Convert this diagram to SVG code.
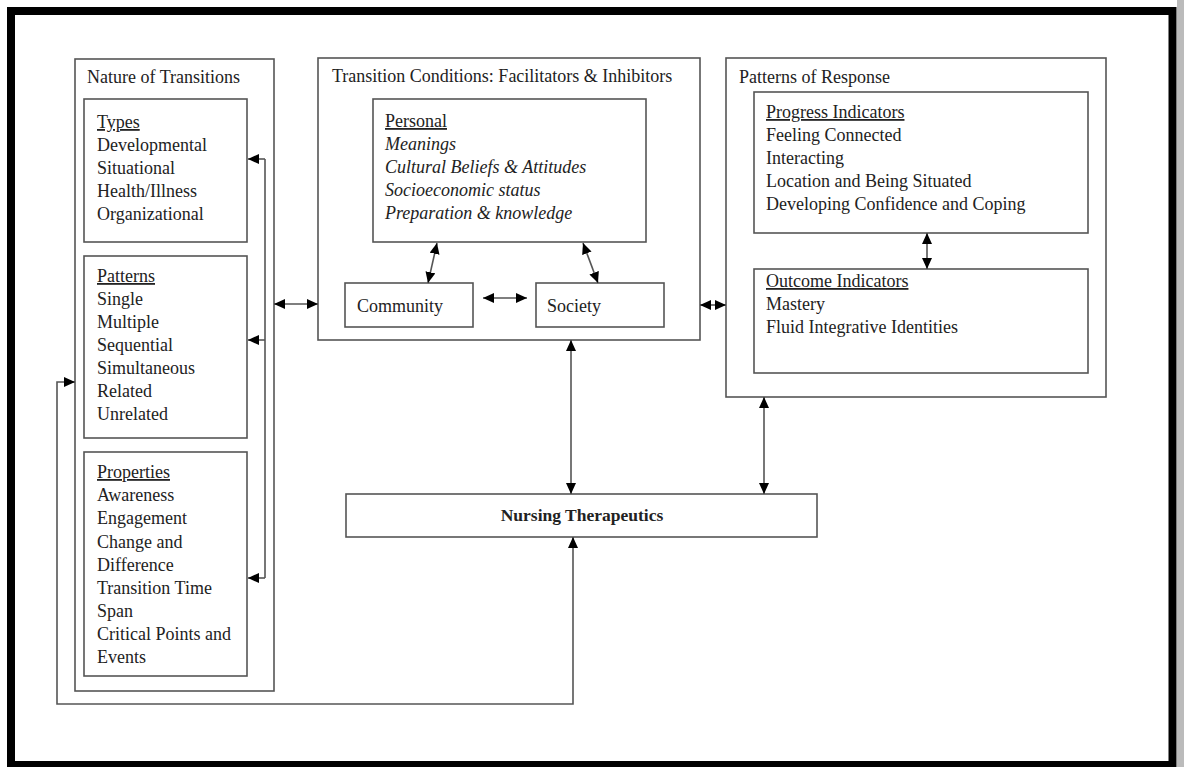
<svg xmlns="http://www.w3.org/2000/svg" width="1184" height="767" viewBox="0 0 1184 767">
<style>
.box{fill:#fff;stroke:#555;stroke-width:1.6}
.t{font-family:"Liberation Serif","Times New Roman",serif;font-size:18px;fill:#222}
.i{font-style:italic}
.u{text-decoration:underline}
.b{font-weight:bold;font-size:17.5px}
.c{fill:none;stroke:#555;stroke-width:1.6}
</style>
<defs>
<marker id="ah" viewBox="0 0 11 10" refX="11" refY="5" markerWidth="11" markerHeight="10" markerUnits="userSpaceOnUse" orient="auto-start-reverse">
<path d="M0,0 L11,5 L0,10 Z" fill="#000"/>
</marker>
</defs>
<rect x="0" y="0" width="1184" height="767" fill="#fff"/>
<rect x="1177" y="0" width="7" height="767" fill="#bbb"/>
<rect x="11" y="11" width="1161.5" height="754" fill="none" stroke="#000" stroke-width="8"/>

<g id="nature">
<rect class="box" x="75" y="59" width="199" height="632"/>
<text class="t" x="87" y="83">Nature of Transitions</text>
</g>
<g id="types">
<rect class="box" x="84" y="99" width="163" height="143"/>
<text class="t"><tspan class="u" x="97" y="128">Types</tspan><tspan x="97" y="151">Developmental</tspan><tspan x="97" y="174">Situational</tspan><tspan x="97" y="197">Health/Illness</tspan><tspan x="97" y="220">Organizational</tspan></text>
</g>
<g id="patterns">
<rect class="box" x="84" y="256" width="163" height="182"/>
<text class="t"><tspan class="u" x="97" y="282">Patterns</tspan><tspan x="97" y="305">Single</tspan><tspan x="97" y="328">Multiple</tspan><tspan x="97" y="351">Sequential</tspan><tspan x="97" y="374">Simultaneous</tspan><tspan x="97" y="397">Related</tspan><tspan x="97" y="420">Unrelated</tspan></text>
</g>
<g id="properties">
<rect class="box" x="84" y="452" width="163" height="224"/>
<text class="t"><tspan class="u" x="97" y="478">Properties</tspan><tspan x="97" y="501">Awareness</tspan><tspan x="97" y="524">Engagement</tspan><tspan x="97" y="548">Change and</tspan><tspan x="97" y="571">Difference</tspan><tspan x="97" y="594">Transition Time</tspan><tspan x="97" y="617">Span</tspan><tspan x="97" y="640">Critical Points and</tspan><tspan x="97" y="663">Events</tspan></text>
</g>

<g id="conditions">
<rect class="box" x="318" y="58" width="382" height="282"/>
<text class="t" x="332" y="82">Transition Conditions: Facilitators &amp; Inhibitors</text>
</g>
<g id="personal">
<rect class="box" x="373" y="99" width="273" height="143"/>
<text class="t"><tspan class="u" x="385" y="127">Personal</tspan><tspan class="i" x="385" y="150">Meanings</tspan><tspan class="i" x="385" y="173">Cultural Beliefs &amp; Attitudes</tspan><tspan class="i" x="385" y="196">Socioeconomic status</tspan><tspan class="i" x="385" y="219">Preparation &amp; knowledge</tspan></text>
</g>
<g id="community">
<rect class="box" x="345" y="283" width="128" height="44"/>
<text class="t" x="357" y="312">Community</text>
</g>
<g id="society">
<rect class="box" x="536" y="283" width="128" height="44"/>
<text class="t" x="547" y="312">Society</text>
</g>

<g id="response">
<rect class="box" x="726" y="58" width="380" height="339"/>
<text class="t" x="739" y="83">Patterns of Response</text>
</g>
<g id="progress">
<rect class="box" x="754" y="92" width="334" height="141"/>
<text class="t"><tspan class="u" x="766" y="118">Progress Indicators</tspan><tspan x="766" y="141">Feeling Connected</tspan><tspan x="766" y="164">Interacting</tspan><tspan x="766" y="187">Location and Being Situated</tspan><tspan x="766" y="210">Developing Confidence and Coping</tspan></text>
</g>
<g id="outcome">
<rect class="box" x="754" y="269" width="334" height="104"/>
<text class="t"><tspan class="u" x="766" y="287">Outcome Indicators</tspan><tspan x="766" y="310">Mastery</tspan><tspan x="766" y="333">Fluid Integrative Identities</tspan></text>
</g>

<g id="nursing">
<rect class="box" x="346" y="494" width="471" height="43"/>
<text class="t b" x="582" y="521" text-anchor="middle">Nursing Therapeutics</text>
</g>

<g id="connectors">
<path class="c" d="M274,304 L318,304" marker-start="url(#ah)" marker-end="url(#ah)"/>
<path class="c" d="M700,305 L726,305" marker-start="url(#ah)" marker-end="url(#ah)"/>
<path class="c" d="M483,298 L527,298" marker-start="url(#ah)" marker-end="url(#ah)"/>
<path class="c" d="M437,243 L428,283" marker-start="url(#ah)" marker-end="url(#ah)"/>
<path class="c" d="M583,243 L598,283" marker-start="url(#ah)" marker-end="url(#ah)"/>
<path class="c" d="M927,233 L927,269" marker-start="url(#ah)" marker-end="url(#ah)"/>
<path class="c" d="M571,340 L571,494" marker-start="url(#ah)" marker-end="url(#ah)"/>
<path class="c" d="M764,397 L764,494" marker-start="url(#ah)" marker-end="url(#ah)"/>
<path class="c" d="M573,537 L573,704 L57,704 L57,382 L75,382" marker-start="url(#ah)" marker-end="url(#ah)"/>
<path class="c" d="M265,159 L265,578"/>
<path class="c" d="M265,159 L248,159" marker-end="url(#ah)"/>
<path class="c" d="M265,340 L248,340" marker-end="url(#ah)"/>
<path class="c" d="M265,578 L248,578" marker-end="url(#ah)"/>
</g>
</svg>
